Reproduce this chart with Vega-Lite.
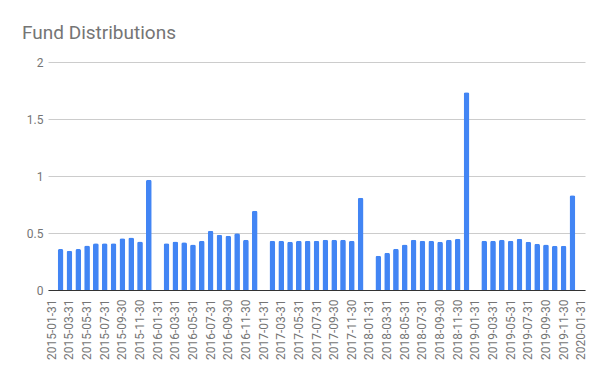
{
  "$schema": "https://vega.github.io/schema/vega-lite/v6.json",
  "autosize": "none",
  "width": 537,
  "height": 228,
  "padding": {"left": 48, "top": 62, "right": 23, "bottom": 91},
  "background": "white",
  "config": {"font": "Roboto", "view": {"stroke": null}},
  "title": {"text": "Fund Distributions", "anchor": "start", "frame": "group", "fontSize": 19, "fontWeight": "normal", "color": "#757575", "dx": -26, "dy": 25, "offset": 23, "baseline": "alphabetic"},
  "data": {"values": [
    {"date": "2015-01-31", "value": 0},
    {"date": "2015-02-28", "value": 0.36},
    {"date": "2015-03-31", "value": 0.345},
    {"date": "2015-04-30", "value": 0.36},
    {"date": "2015-05-31", "value": 0.39},
    {"date": "2015-06-30", "value": 0.41},
    {"date": "2015-07-31", "value": 0.41},
    {"date": "2015-08-31", "value": 0.41},
    {"date": "2015-09-30", "value": 0.453},
    {"date": "2015-10-31", "value": 0.46},
    {"date": "2015-11-30", "value": 0.425},
    {"date": "2015-12-31", "value": 0.967},
    {"date": "2016-01-31", "value": 0},
    {"date": "2016-02-29", "value": 0.41},
    {"date": "2016-03-31", "value": 0.425},
    {"date": "2016-04-30", "value": 0.418},
    {"date": "2016-05-31", "value": 0.4},
    {"date": "2016-06-30", "value": 0.432},
    {"date": "2016-07-31", "value": 0.52},
    {"date": "2016-08-31", "value": 0.485},
    {"date": "2016-09-30", "value": 0.476},
    {"date": "2016-10-31", "value": 0.497},
    {"date": "2016-11-30", "value": 0.441},
    {"date": "2016-12-31", "value": 0.695},
    {"date": "2017-01-31", "value": 0},
    {"date": "2017-02-28", "value": 0.432},
    {"date": "2017-03-31", "value": 0.432},
    {"date": "2017-04-30", "value": 0.424},
    {"date": "2017-05-31", "value": 0.432},
    {"date": "2017-06-30", "value": 0.432},
    {"date": "2017-07-31", "value": 0.432},
    {"date": "2017-08-31", "value": 0.441},
    {"date": "2017-09-30", "value": 0.441},
    {"date": "2017-10-31", "value": 0.441},
    {"date": "2017-11-30", "value": 0.432},
    {"date": "2017-12-31", "value": 0.809},
    {"date": "2018-01-31", "value": 0},
    {"date": "2018-02-28", "value": 0.301},
    {"date": "2018-03-31", "value": 0.327},
    {"date": "2018-04-30", "value": 0.362},
    {"date": "2018-05-31", "value": 0.4},
    {"date": "2018-06-30", "value": 0.441},
    {"date": "2018-07-31", "value": 0.432},
    {"date": "2018-08-31", "value": 0.432},
    {"date": "2018-09-30", "value": 0.424},
    {"date": "2018-10-31", "value": 0.441},
    {"date": "2018-11-30", "value": 0.45},
    {"date": "2018-12-31", "value": 1.734},
    {"date": "2019-01-31", "value": 0},
    {"date": "2019-02-28", "value": 0.432},
    {"date": "2019-03-31", "value": 0.432},
    {"date": "2019-04-30", "value": 0.441},
    {"date": "2019-05-31", "value": 0.432},
    {"date": "2019-06-30", "value": 0.45},
    {"date": "2019-07-31", "value": 0.424},
    {"date": "2019-08-31", "value": 0.406},
    {"date": "2019-09-30", "value": 0.4},
    {"date": "2019-10-31", "value": 0.389},
    {"date": "2019-11-30", "value": 0.389},
    {"date": "2019-12-31", "value": 0.832},
    {"date": "2020-01-31", "value": 0}
  ]},
  "mark": {"type": "bar", "color": "#4285f4", "cornerRadiusTopLeft": 2, "cornerRadiusTopRight": 2},
  "encoding": {
    "x": {
      "field": "date", "type": "ordinal", "title": null,
      "scale": {"paddingInner": 0.35, "paddingOuter": 0.1},
      "axis": {
        "values": ["2015-01-31","2015-03-31","2015-05-31","2015-07-31","2015-09-30","2015-11-30","2016-01-31","2016-03-31","2016-05-31","2016-07-31","2016-09-30","2016-11-30","2017-01-31","2017-03-31","2017-05-31","2017-07-31","2017-09-30","2017-11-30","2018-01-31","2018-03-31","2018-05-31","2018-07-31","2018-09-30","2018-11-30","2019-01-31","2019-03-31","2019-05-31","2019-07-31","2019-09-30","2019-11-30","2020-01-31"],
        "labelAngle": -90, "labelAlign": "right", "labelBaseline": "middle",
        "labelFontSize": 12, "labelColor": "#757575", "labelPadding": 9,
        "ticks": false, "domainColor": "#333333", "domainWidth": 1, "grid": false
      }
    },
    "y": {
      "field": "value", "type": "quantitative", "title": null,
      "scale": {"domain": [0, 2]},
      "axis": {
        "values": [0, 0.5, 1, 1.5, 2], "format": "~g",
        "domain": false, "ticks": false, "labelPadding": 5,
        "labelFontSize": 12, "labelColor": "#757575",
        "gridColor": "#cccccc", "gridWidth": 1
      }
    }
  }
}
